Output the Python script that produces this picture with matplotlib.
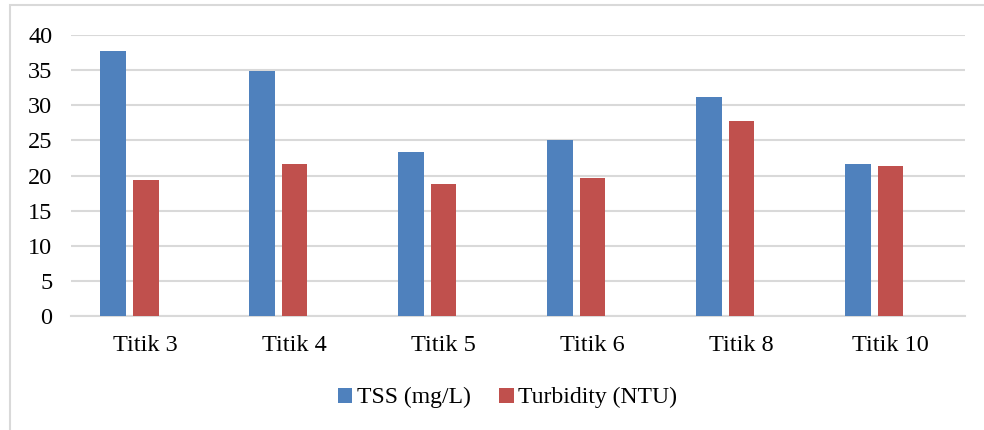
import numpy as np
import matplotlib
matplotlib.use("Agg")
import matplotlib.pyplot as plt
from matplotlib.patches import Rectangle

categories = ["Titik 3", "Titik 4", "Titik 5", "Titik 6", "Titik 8", "Titik 10"]
tss = [37.7, 34.9, 23.3, 25.1, 31.2, 21.7]
turbidity = [19.4, 21.6, 18.8, 19.6, 27.7, 21.3]
yticks = [0, 5, 10, 15, 20, 25, 30, 35, 40]

blue = "#4F81BD"
red = "#C0504D"
grid = "#D9D9D9"

plt.rcParams['font.family'] = ['Liberation Serif', 'DejaVu Serif']

fig = plt.figure(figsize=(9.84, 4.30), dpi=100)
ax = fig.add_axes([0.0722, 0.2651, 0.9085, 0.6535])

x = np.arange(len(categories))
w = 0.174
step = 0.221
ax.bar(x - step, tss, width=w, color=blue, zorder=3, label="TSS (mg/L)")
ax.bar(x, turbidity, width=w, color=red, zorder=3, label="Turbidity (NTU)")

ax.set_xlim(-0.5, len(categories) - 0.5)
ax.set_ylim(0, 40)
ax.set_yticks(yticks)
ax.set_xticks(x)
ax.set_xticklabels(categories)
ax.tick_params(axis='both', length=0, labelsize=17.5, colors='black')
ax.tick_params(axis='y', pad=13.5)
ax.tick_params(axis='x', pad=14)
ax.yaxis.grid(True, color=grid, linewidth=1.5, zorder=0)
for s in ["top", "right", "left"]:
    ax.spines[s].set_visible(False)
ax.spines["bottom"].set_color(grid)
ax.spines["bottom"].set_linewidth(1.5)

fig.legend(loc="center", bbox_to_anchor=(0.516, 0.075), ncol=2, frameon=False,
           fontsize=17, handlelength=0.6, handleheight=0.6, handletextpad=0.2,
           columnspacing=1.2)

# outer chart border
fig.patches.append(Rectangle((9.5 / 984, -0.1), 1.2, 1.1 - 5.5 / 430,
                             transform=fig.transFigure, fill=False,
                             edgecolor=grid, linewidth=1.5))

fig.savefig("out.png", dpi=100)
